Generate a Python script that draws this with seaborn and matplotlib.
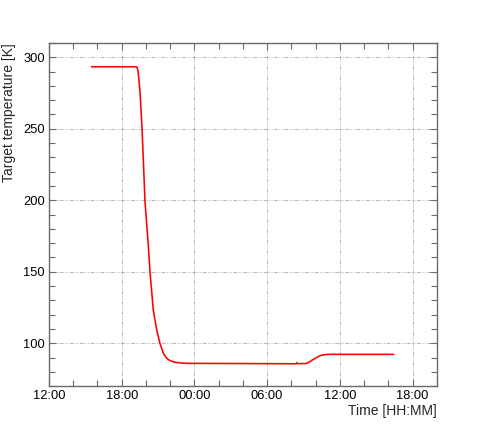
import pandas as pd
import matplotlib
matplotlib.use("Agg")
import matplotlib.pyplot as plt
import matplotlib.dates as mdates
from matplotlib.ticker import MultipleLocator
import seaborn as sns

# target temperature log
times = [
    "2019-03-01 15:30", "2019-03-01 19:14", "2019-03-01 19:18", "2019-03-01 19:22",
    "2019-03-01 19:31", "2019-03-01 19:40", "2019-03-01 19:47", "2019-03-01 19:55",
    "2019-03-01 20:00", "2019-03-01 20:11", "2019-03-01 20:20", "2019-03-01 20:36",
    "2019-03-01 20:53", "2019-03-01 21:09", "2019-03-01 21:26", "2019-03-01 21:38",
    "2019-03-01 21:50", "2019-03-01 22:05", "2019-03-01 22:23", "2019-03-01 22:48",
    "2019-03-01 23:30", "2019-03-02 03:24", "2019-03-02 08:24", "2019-03-02 08:27",
    "2019-03-02 08:29", "2019-03-02 09:15", "2019-03-02 09:30", "2019-03-02 09:48",
    "2019-03-02 10:05", "2019-03-02 10:21", "2019-03-02 10:40", "2019-03-02 11:02",
    "2019-03-02 16:27",
]
temperature = [
    293.3, 293.3, 292.0, 289.0,
    275.0, 252.0, 228.5, 200.0,
    190.0, 170.0, 150.0, 123.5,
    109.5, 100.0, 93.0, 90.3,
    88.6, 87.5, 86.7, 86.2,
    85.9, 85.8, 85.6, 86.4,
    85.7, 85.8, 87.0, 88.6,
    90.0, 91.2, 91.9, 92.2,
    92.2,
]

x_start = "2019-03-01 12:00"
x_end = "2019-03-02 20:00"

df = pd.DataFrame({"time": pd.to_datetime(times), "temp": temperature})

sns.set_style("ticks")
plt.rcParams["font.family"] = ["Liberation Sans", "DejaVu Sans"]

fig = plt.figure(figsize=(4.86, 4.29), dpi=100)
ax = fig.add_axes([0.1008, 0.100, 0.798, 0.800])

sns.lineplot(data=df, x="time", y="temp", color="red", linewidth=1.15, ax=ax)

ax.set_xlim(pd.Timestamp(x_start), pd.Timestamp(x_end))
ax.set_ylim(70, 310)

ax.xaxis.set_major_locator(mdates.HourLocator(byhour=[0, 6, 12, 18]))
ax.xaxis.set_minor_locator(mdates.HourLocator(interval=2))
ax.xaxis.set_major_formatter(mdates.DateFormatter("%H:%M"))
ax.yaxis.set_major_locator(MultipleLocator(50))
ax.yaxis.set_minor_locator(MultipleLocator(10))

edge = "#6a6a6a"
for s in ax.spines.values():
    s.set_color(edge)
    s.set_linewidth(1.0)
    s.set_visible(True)

ax.tick_params(which="both", direction="in", top=True, right=True,
               color=edge, width=0.8, labelsize=9.3, labelcolor="black")
ax.tick_params(which="major", length=5, pad=3)
ax.tick_params(which="minor", length=4)

ax.grid(which="major", color="#b5b5b5", linewidth=0.7,
        linestyle=(0, (4, 1.5, 1, 1.5, 1, 1.5)))

ax.set_xlabel("Time [HH:MM]", fontsize=10, loc="right", labelpad=1)
ax.set_ylabel("Target temperature [K]", fontsize=10, loc="top")
ax.yaxis.set_label_coords(-0.084, 1.0)

plt.savefig("out.png", dpi=100)
plt.close()
